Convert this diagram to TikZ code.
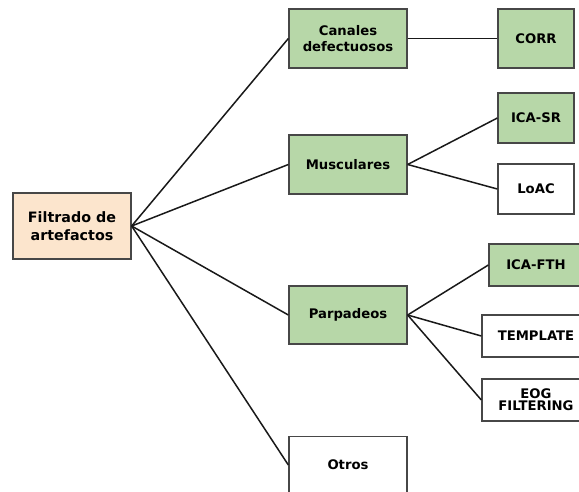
\documentclass[tikz,border=0pt]{standalone}
\usepackage{fontspec}
\setmainfont{DejaVu Sans}
\begin{document}
\begin{tikzpicture}[x=1pt,y=-1pt,
  box/.style={draw=black!72, line width=1.3pt, inner sep=0pt, align=center,
    font=\bfseries\fontsize{13.2}{15.5}\selectfont},
  green/.style={box, fill={rgb,255:red,183;green,215;blue,168}},
  white/.style={box, fill=white},
  link/.style={line width=1.5pt, black!90}
]
\useasboundingbox (0,0) rectangle (579,491);
% root
\node[box, fill={rgb,255:red,252;green,229;blue,205}, minimum width=118pt, minimum height=66pt,
  font=\bfseries\fontsize{14.3}{18.5}\selectfont] (root) at (72,226) {Filtrado de\\artefactos};
% first level
\node[green, minimum width=118pt, minimum height=59pt] (can) at (348,38.5) {Canales\\defectuosos};
\node[green, minimum width=118pt, minimum height=59pt] (mus) at (348,164.5) {Musculares};
\node[green, minimum width=118pt, minimum height=58pt] (par) at (348,315) {Parpadeos};
\node[white, minimum width=118pt, minimum height=62pt, anchor=north] (otr) at (348,436) {};
\node[font=\bfseries\fontsize{13.2}{15.5}\selectfont] (otrtxt) at (348,465) {Otros};
\coordinate (otrin) at (otr.north west |- otrtxt.west);
% second level
\node[green, minimum width=76pt, minimum height=59pt] (corr) at (536,38.5) {CORR};
\node[green, minimum width=76pt, minimum height=50pt] (icasr) at (536,118) {ICA-SR};
\node[white, minimum width=76pt, minimum height=50pt] (loac) at (536,189) {LoAC};
\node[green, minimum width=94pt, minimum height=42pt] (icafth) at (536,265) {ICA-FTH};
\node[white, minimum width=108pt, minimum height=42pt] (tmpl) at (536,336) {TEMPLATE};
\node[white, minimum width=108pt, minimum height=42pt, font=\bfseries\fontsize{13.2}{12}\selectfont] (eog) at (536,400) {EOG\\FILTERING};
% connectors
\foreach \c in {can,mus,par}
  \draw[link] (root.east) -- (\c.west);
\draw[link] (root.east) -- (otrin);
\draw[link] (can.east) -- (corr.west);
\draw[link] (mus.east) -- (icasr.west);
\draw[link] (mus.east) -- (loac.west);
\draw[link] (par.east) -- (icafth.west);
\draw[link] (par.east) -- (tmpl.west);
\draw[link] (par.east) -- (eog.west);
\end{tikzpicture}
\end{document}
